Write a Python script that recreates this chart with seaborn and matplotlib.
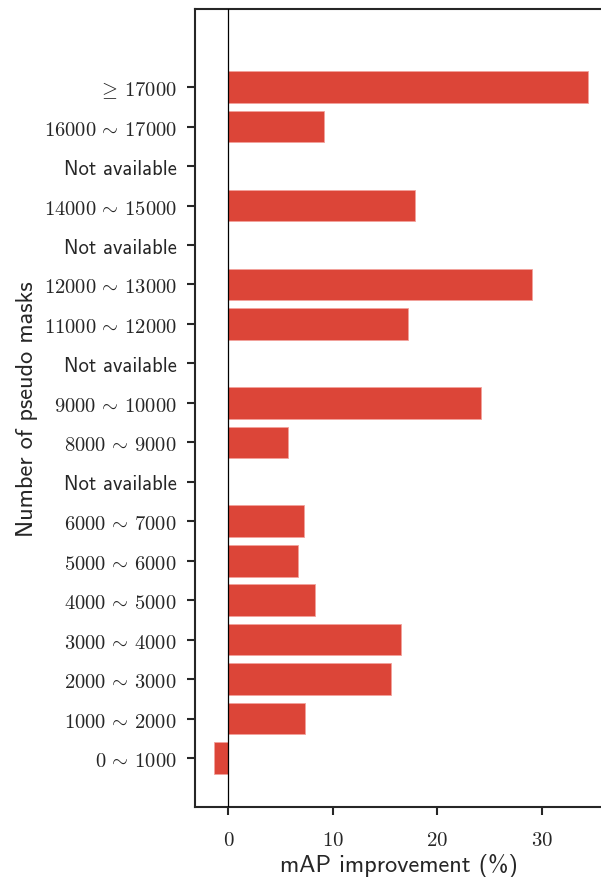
import matplotlib
matplotlib.use("Agg")
import matplotlib.pyplot as plt
import pandas as pd
import seaborn as sns

# categories from top to bottom, None = no data for that bin
labels = [
    r"$\geq \, 17000$", r"$16000 \, \sim \, 17000$", "Not available",
    r"$14000 \, \sim \, 15000$", "Not available", r"$12000 \, \sim \, 13000$",
    r"$11000 \, \sim \, 12000$", "Not available", r"$9000 \, \sim \, 10000$",
    r"$8000 \, \sim \, 9000$", "Not available", r"$6000 \, \sim \, 7000$",
    r"$5000 \, \sim \, 6000$", r"$4000 \, \sim \, 5000$", r"$3000 \, \sim \, 4000$",
    r"$2000 \, \sim \, 3000$", r"$1000 \, \sim \, 2000$", r"$0 \, \sim \, 1000$",
]
improvement = [
    34.4, 9.1, None,
    17.9, None, 29.1,
    17.2, None, 24.2,
    5.7, None, 7.2,
    6.7, 8.3, 16.5,
    15.6, 7.3, -1.4,
]
xticks = [0, 10, 20, 30]


def main():
    sns.set_style("ticks")
    plt.rcParams["mathtext.fontset"] = "cm"
    plt.rcParams["axes.linewidth"] = 1.5

    keys = [f"bin{i}" for i in range(len(labels))]
    df = pd.DataFrame({"bin": keys, "mAP": improvement}).dropna()

    fig = plt.figure(figsize=(6.01, 8.78), dpi=100)
    ax = fig.add_axes([195 / 601, 1 - 808 / 878, 408 / 601, 798 / 878])

    sns.barplot(
        data=df, x="mAP", y="bin", order=keys, orient="h",
        color="#DC4538", saturation=1, width=0.8,
        edgecolor="#F2A29B", linewidth=0.6, ax=ax,
    )
    ax.axvline(0, color="black", linewidth=0.9, zorder=3)

    ax.set_yticks(range(len(labels)))
    ax.set_yticklabels(labels, fontsize=14.8)
    for t in ax.get_yticklabels():
        if not t.get_text().startswith("$"):
            t.set_fontfamily("cmss10")
    ax.set_xticks(xticks)
    ax.set_xticklabels([rf"${t}$" for t in xticks], fontsize=15)
    ax.tick_params(axis="both", length=6, width=1.5)
    ax.tick_params(axis="y", pad=7)
    ax.tick_params(axis="x", pad=10)

    ax.set_xlim(-3.2, 35.85)
    ax.set_ylim(18.24, -1.98)

    ax.set_xlabel("mAP improvement (%)", fontsize=17.5, family="cmss10", labelpad=3)
    ax.set_ylabel("Number of pseudo masks", fontsize=17.5, family="cmss10", labelpad=4)

    for side in ["top", "left", "bottom", "right"]:
        ax.spines[side].set_visible(True)

    fig.savefig("out.png", dpi=100)
    plt.close(fig)


if __name__ == "__main__":
    main()
